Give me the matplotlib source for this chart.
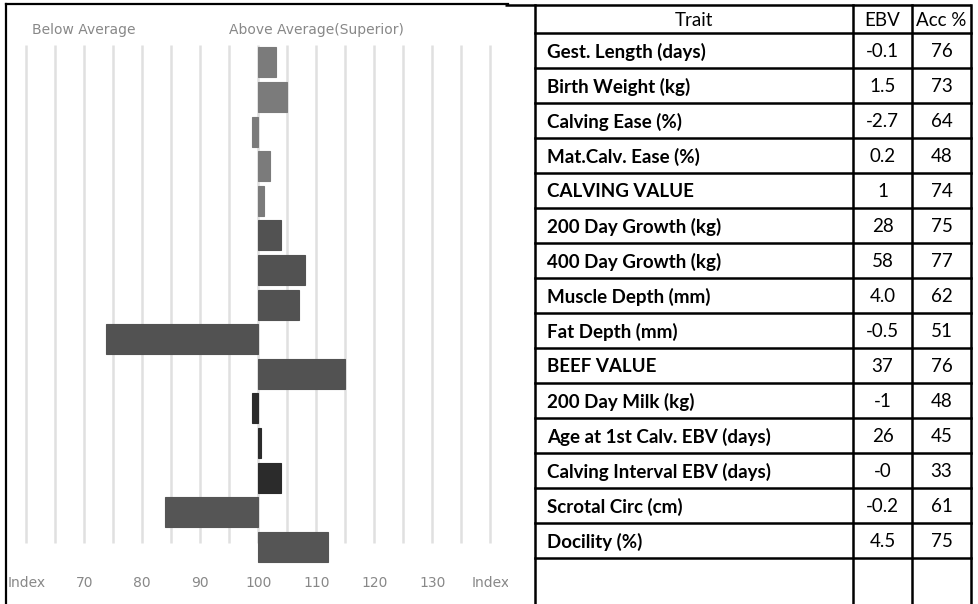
import matplotlib
matplotlib.use("Agg")
import matplotlib.pyplot as plt

# ---------------- data ----------------
traits = ["Gest. Length (days)", "Birth Weight (kg)", "Calving Ease (%)",
          "Mat.Calv. Ease (%)", "CALVING VALUE", "200 Day Growth (kg)",
          "400 Day Growth (kg)", "Muscle Depth (mm)", "Fat Depth (mm)",
          "BEEF VALUE", "200 Day Milk (kg)", "Age at 1st Calv. EBV (days)",
          "Calving Interval EBV (days)", "Scrotal Circ (cm)", "Docility (%)"]
ebv = ["-0.1", "1.5", "-2.7", "0.2", "1", "28", "58", "4.0", "-0.5", "37",
       "-1", "26", "-0", "-0.2", "4.5"]
acc = ["76", "73", "64", "48", "74", "75", "77", "62", "51", "76",
       "48", "45", "33", "61", "75"]
# index values (100 = breed average)
index_vals = [103, 105, 98.9, 102, 101, 104, 108, 107, 73.7, 115,
              98.9, 100.4, 104, 83.9, 112]
bar_colors = ["#7b7b7b"] * 5 + ["#525252"] * 5 + ["#2b2b2b", "#2b2b2b", "#2b2b2b",
                                                  "#555555", "#555555"]
tick_vals = [60, 70, 80, 90, 100, 110, 120, 130, 140]
tick_labels = ["Index", "70", "80", "90", "100", "110", "120", "130", "Index"]
grid_vals = list(range(60, 145, 5))
header = ["Trait", "EBV", "Acc %"]

W, H = 979, 604
fig = plt.figure(figsize=(W / 100, H / 100), dpi=100)
fig.patch.set_facecolor("white")

# ---------------- bar chart panel ----------------
PX_PER_UNIT = 5.8
X100 = 258.3
PITCH = 34.6
Y0 = 62.3
left_px, right_px, top_px, bot_px = 6, 508, 4, 604
ax = fig.add_axes([left_px / W, 0, (right_px - left_px) / W, (bot_px - top_px) / H])
ax.set_xlim(100 + (left_px - X100) / PX_PER_UNIT, 100 + (right_px - X100) / PX_PER_UNIT)
ax.set_ylim((bot_px - Y0) / PITCH, (top_px - Y0) / PITCH)
ax.set_xticks([])
ax.set_yticks([])
for s in ["right", "bottom"]:
    ax.spines[s].set_visible(False)
ax.spines["left"].set_linewidth(1.6)
ax.spines["top"].set_linewidth(1.6)

g_top = (45 - Y0) / PITCH
g_bot = (543 - Y0) / PITCH
ax.vlines(grid_vals, g_top, g_bot, colors="#e0e0e0", linewidth=1.8, zorder=1)

ypos = list(range(len(index_vals)))
widths = [v - 100 for v in index_vals]
ax.barh(ypos, widths, left=100, height=30 / PITCH, color=bar_colors,
        edgecolor=bar_colors, linewidth=0.8, zorder=3)

lab_font = dict(fontsize=10, color="#888888", family="DejaVu Sans")
lab_y = (583 - Y0) / PITCH
for v, t in zip(tick_vals, tick_labels):
    ax.text(v, lab_y, t, ha="center", va="center", clip_on=True, **lab_font)

ax.text(100 + (84 - X100) / PX_PER_UNIT, (30 - Y0) / PITCH, "Below Average",
        ha="center", va="center", **lab_font)
ax.text(100 + (316 - X100) / PX_PER_UNIT, (30 - Y0) / PITCH, "Above Average(Superior)",
        ha="center", va="center", **lab_font)

# ---------------- table (figure pixel coordinates) ----------------
ov = fig.add_axes([0, 0, 1, 1], facecolor="none")
ov.set_xlim(0, W)
ov.set_ylim(H, 0)
ov.axis("off")

tl, c1, c2, tr = 535, 853, 912, 971
row_top = 5
head_bot = 33.3
row_h = 35.0
lw = 1.8
ov.plot([tl - 30, tr], [row_top, row_top], color="black", lw=lw, solid_capstyle="butt")
for x in (tl, c1, c2, tr):
    ov.plot([x, x], [row_top, H + 5], color="black", lw=lw)
ov.plot([tl, tr], [head_bot, head_bot], color="black", lw=lw)
for i in range(1, len(traits) + 1):
    y = head_bot + row_h * i
    ov.plot([tl, tr], [y, y], color="black", lw=lw)

font = "Lato"
fs = 13.5
hy = (row_top + head_bot) / 2 + 1
ov.text((tl + c1) / 2, hy, header[0], ha="center", va="center", fontsize=fs, family=font)
ov.text((c1 + c2) / 2, hy, header[1], ha="center", va="center", fontsize=fs, family=font)
ov.text((c2 + tr) / 2, hy, header[2], ha="center", va="center", fontsize=fs, family=font)
for i, (t, e, a) in enumerate(zip(traits, ebv, acc)):
    yc = head_bot + row_h * i + row_h / 2 + 1
    ov.text(tl + 12, yc, t, ha="left", va="center", fontsize=fs, weight="bold", family=font)
    ov.text((c1 + c2) / 2, yc, e, ha="center", va="center", fontsize=fs, family=font)
    ov.text((c2 + tr) / 2, yc, a, ha="center", va="center", fontsize=fs, family=font)

fig.savefig("out.png", dpi=100, facecolor="white")
